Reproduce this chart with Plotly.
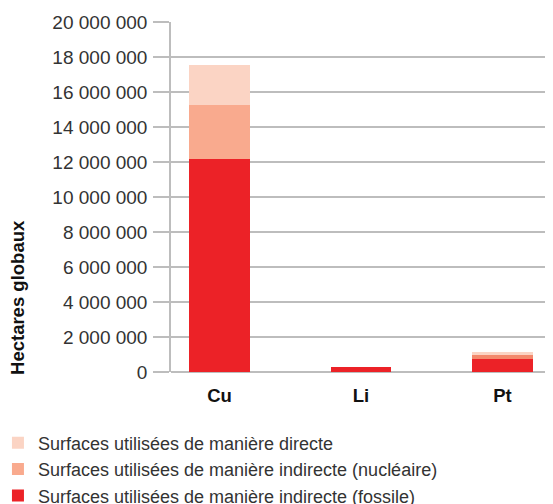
import plotly.graph_objects as go

metaux = ["Cu", "Li", "Pt"]
fossile = [12150000, 270000, 730000]
nucleaire = [3100000, 0, 220000]
directe = [2280000, 0, 170000]
noms = [
    "Surfaces utilisées de manière indirecte (fossile)",
    "Surfaces utilisées de manière indirecte (nucléaire)",
    "Surfaces utilisées de manière directe",
]
graduations = list(range(0, 20000001, 2000000))

police = "Liberation Sans, Arial, sans-serif"

fig = go.Figure()
fig.add_trace(go.Bar(x=metaux, y=fossile, name=noms[0],
                     marker=dict(color="#EC2227", line=dict(width=0))))
fig.add_trace(go.Bar(x=metaux, y=nucleaire, name=noms[1],
                     marker=dict(color=["#F9AA8E", "#F3896C", "#F3896C"], line=dict(width=0))))
fig.add_trace(go.Bar(x=metaux, y=directe, name=noms[2],
                     marker=dict(color="#FBD4C4", line=dict(width=0))))

# the page body adds an 8px offset, so the figure is a bit smaller than the window
fig.update_layout(
    width=545, height=496,
    barmode="stack",
    bargap=0.57,
    separators=", ",
    plot_bgcolor="white",
    paper_bgcolor="white",
    margin=dict(l=163, r=0, t=14, b=132, autoexpand=False),
    font=dict(family=police, size=18, color="#333333"),
    showlegend=True,
    legend=dict(
        traceorder="reversed",
        orientation="v",
        x=-0.453, xanchor="left",
        y=-0.15, yanchor="top",
        font=dict(size=18, color="#333333"),
        itemclick=False,
    ),
    xaxis=dict(
        range=[-0.343, 2.357],
        showgrid=False,
        showline=False,
        ticks="",
        ticklabelstandoff=10,
        tickfont=dict(size=18.5, color="#111111", family=police, weight="bold"),
    ),
    yaxis=dict(
        range=[0, 20000000],
        tickvals=graduations,
        tickformat=",d",
        showgrid=True,
        gridcolor="#BDBDBD",
        gridwidth=1.5,
        zeroline=True,
        zerolinecolor="#BDBDBD",
        zerolinewidth=1.5,
        showline=True,
        linecolor="#BDBDBD",
        linewidth=1.5,
        ticks="outside",
        ticklen=16,
        tickcolor="#BDBDBD",
        tickwidth=1.5,
        ticklabelstandoff=2,
        tickfont=dict(size=19, color="#333333"),
    ),
)

fig.add_annotation(
    text="<b>Hectares globaux</b>",
    textangle=-90,
    xref="paper", yref="paper",
    x=-0.4035, y=0.214,
    xanchor="center", yanchor="middle",
    showarrow=False,
    font=dict(size=18.5, color="#111111", family=police),
)

fig.write_html("out.html")
